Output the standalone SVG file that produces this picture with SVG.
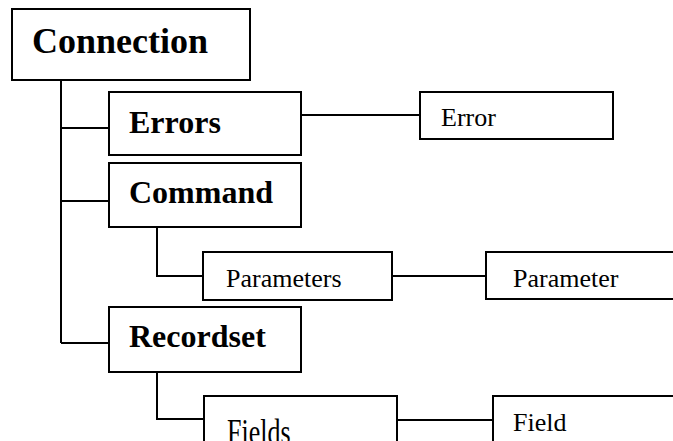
<svg xmlns="http://www.w3.org/2000/svg" width="673" height="441" viewBox="0 0 673 441">
<style>
.box{fill:#fff;stroke:#000;stroke-width:2}
.ln{fill:none;stroke:#000;stroke-width:2}
.b{font-family:"Liberation Serif","Times New Roman",serif;font-weight:bold;fill:#000}
.r{font-family:"Liberation Serif","Times New Roman",serif;font-size:26px;fill:#000}
</style>
<rect x="0" y="0" width="673" height="441" fill="#fff"/>
<g id="connectors">
<path class="ln" d="M61,80 V343 M61,128 H109 M61,201 H109 M61,343 H109"/>
<path class="ln" d="M301,115 H420"/>
<path class="ln" d="M157,227 V276 H203 M392,276 H486"/>
<path class="ln" d="M157,372 V419 H204 M397,420 H493"/>
</g>
<g id="connection">
<rect class="box" x="12" y="9" width="238" height="71"/>
<text class="b" x="32" y="53" font-size="36">Connection</text>
</g>
<g id="errors">
<rect class="box" x="109" y="92" width="192" height="63"/>
<text class="b" x="129" y="133" font-size="32">Errors</text>
</g>
<g id="error">
<rect class="box" x="420" y="92" width="193" height="47"/>
<text class="r" x="441" y="126">Error</text>
</g>
<g id="command">
<rect class="box" x="109" y="163" width="192" height="64"/>
<text class="b" x="129" y="203" font-size="32">Command</text>
</g>
<g id="parameters">
<rect class="box" x="203" y="252" width="189" height="48"/>
<text class="r" x="226" y="287">Parameters</text>
</g>
<g id="parameter">
<rect class="box" x="486" y="252" width="200" height="47"/>
<text class="r" x="513" y="287">Parameter</text>
</g>
<g id="recordset">
<rect class="box" x="109" y="307" width="192" height="65"/>
<text class="b" x="129" y="347" font-size="32">Recordset</text>
</g>
<g id="fields">
<rect class="box" x="204" y="396" width="193" height="60"/>
<text class="r" transform="translate(227,444) scale(1,1.4)" font-size="30">Fields</text>
</g>
<g id="field">
<rect class="box" x="493" y="396" width="200" height="60"/>
<text class="r" x="513" y="431">Field</text>
</g>
</svg>
